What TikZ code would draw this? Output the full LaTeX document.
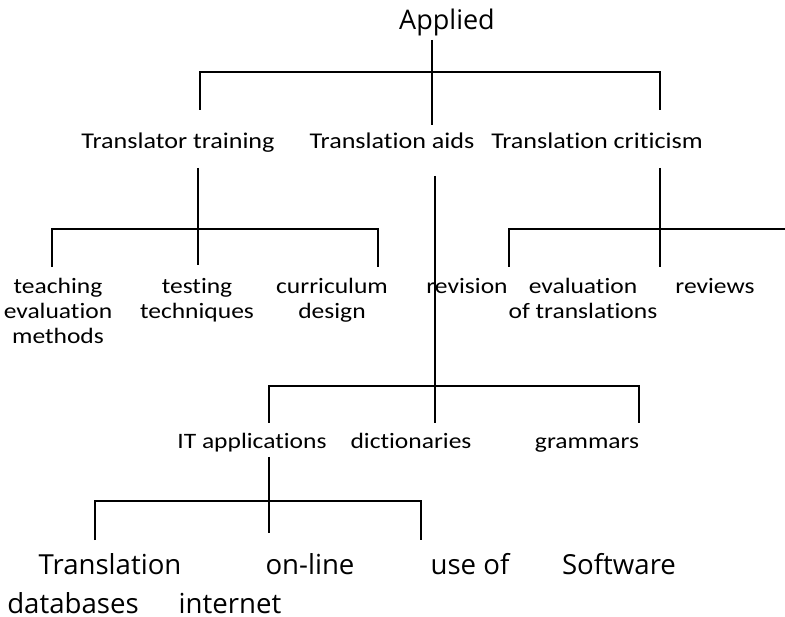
\documentclass[tikz,border=0pt]{standalone}
\usepackage{fontspec}
\setmainfont[FakeStretch=1.16, Ligatures=NoCommon]{Carlito}
\newfontfamily\widefont{Open Sans}
\usetikzlibrary{positioning}

\tikzset{
  top/.style={font=\widefont\fontsize{27}{31}\selectfont, inner sep=0pt, anchor=base},
  head/.style={font=\fontsize{22.5}{26}\selectfont, inner sep=0pt, anchor=base},
  leaf/.style={font=\fontsize{22}{25}\selectfont, align=center, inner sep=0pt, anchor=base},
  bottom/.style={font=\widefont\fontsize{27.6}{30}\selectfont, inner sep=0pt, anchor=base},
  branch/.style={line width=1.2pt}
}

\begin{document}
\begin{tikzpicture}[x=1pt, y=-1pt]
  \useasboundingbox (0,0) rectangle (785,617);

  % root and first level
  \node[top] (applied) at (447,30) {Applied};
  \node[head] (training) at (178,149) {Translator training};
  \node[head] (aids) at (392,149) {Translation aids};
  \node[head] (criticism) at (597,149) {Translation criticism};

  \coordinate (r0) at (432,40);  \coordinate (r1) at (432,125);
  \coordinate (rl) at (200,110); \coordinate (rr) at (660,110);
  \coordinate (rbl) at (200,72); \coordinate (rbr) at (660,72);
  \draw[branch] (r0) -- (r1);
  \draw[branch] (rl) -- (rbl) -- (rbr) -- (rr);

  % translator training (multi-line labels sit on their last line)
  \node[leaf] (teaching) at (58,344) {teaching\\evaluation\\methods};
  \node[leaf] (testing) at (197,319) {testing\\techniques};
  \node[leaf] (curriculum) at (332,319) {curriculum\\design};
  \coordinate (t0) at (198,168); \coordinate (t1) at (198,265);
  \coordinate (tl) at (52,267);  \coordinate (tr) at (378,267);
  \coordinate (tbl) at (52,229); \coordinate (tbr) at (378,229);
  \draw[branch] (t0) -- (t1);
  \draw[branch] (tl) -- (tbl) -- (tbr) -- (tr);

  % translation criticism
  \node[leaf] (revision) at (467,294) {revision};
  \node[leaf] (evaluation) at (583,319) {evaluation\\of translations};
  \node[leaf] (reviews) at (715,294) {reviews};
  \coordinate (c0) at (660,168); \coordinate (c1) at (660,267);
  \coordinate (cl) at (509,267); \coordinate (cbl) at (509,229);
  \coordinate (cr) at (785,229);
  \draw[branch] (c0) -- (c1);
  \draw[branch] (cl) -- (cbl) -- (cr);

  % translation aids
  \node[leaf] (it) at (252,449) {IT applications};
  \node[leaf] (dict) at (411,449) {dictionaries};
  \node[leaf] (gram) at (587,449) {grammars};
  \coordinate (a0) at (435,176); \coordinate (a1) at (435,423);
  \coordinate (al) at (269,423); \coordinate (ar) at (639,423);
  \coordinate (abl) at (269,386); \coordinate (abr) at (639,386);
  \draw[branch] (a0) -- (a1);
  \draw[branch] (al) -- (abl) -- (abr) -- (ar);

  % IT applications
  \node[bottom] (trans) at (110,574) {Translation};
  \node[bottom] (db) at (73,613) {databases};
  \node[bottom] (online) at (310,574) {on-line};
  \node[bottom] (internet) at (230,613) {internet};
  \node[bottom] (useof) at (470,574) {use of};
  \node[bottom] (software) at (619,574) {Software};
  \coordinate (i0) at (269,457); \coordinate (i1) at (269,533);
  \coordinate (il) at (95,540);  \coordinate (ir) at (421,540);
  \coordinate (ibl) at (95,501); \coordinate (ibr) at (421,501);
  \draw[branch] (i0) -- (i1);
  \draw[branch] (il) -- (ibl) -- (ibr) -- (ir);
\end{tikzpicture}
\end{document}
